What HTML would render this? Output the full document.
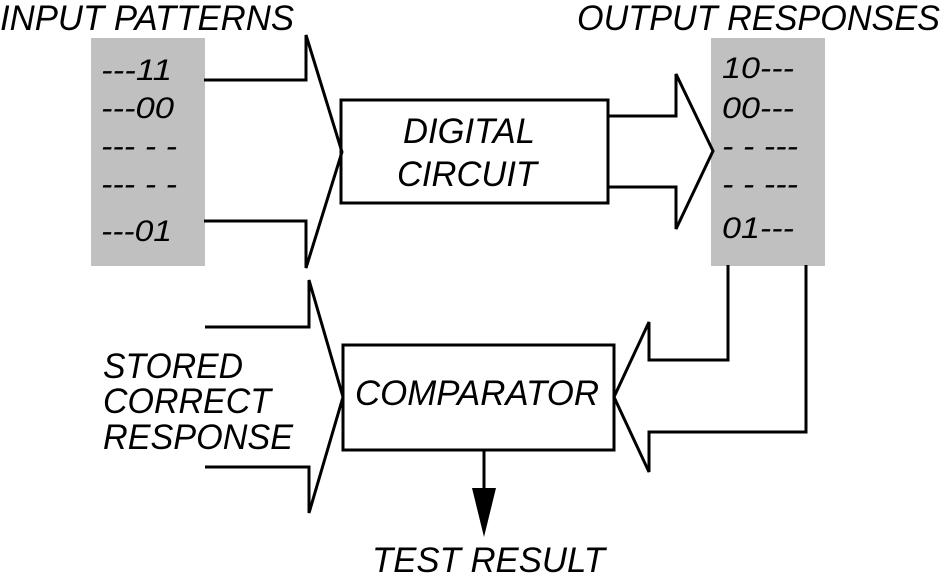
<!DOCTYPE html>
<html><head><meta charset="utf-8"><style>html,body{margin:0;padding:0;background:#fff}svg{display:block}</style></head>
<body>
<svg width="945" height="588" viewBox="0 0 945 588" xmlns="http://www.w3.org/2000/svg" font-family="Liberation Sans, sans-serif" font-style="italic">
<rect x="91" y="38" width="114" height="228" fill="#c0c0c0"/>
<rect x="711" y="38" width="114" height="228" fill="#c0c0c0"/>
<g fill="none" stroke="#000" stroke-width="3" stroke-linejoin="miter">
<polyline points="204,80 306,80 306,35 342,152 306,268 306,221 204,221"/>
<rect x="341" y="100" width="267" height="103"/>
<polyline points="608,116 676,116 676,74 713,151 676,229 676,187 608,187"/>
<rect x="343" y="345" width="271" height="105"/>
<polyline points="205,327 309,327 309,280 343,397 309,513 309,467 205,467"/>
<polyline points="728,265 728,360 649,360 649,322 614,397 649,472 649,432 806,432 806,265"/>
<line x1="484" y1="450" x2="484" y2="490"/>
</g>
<polygon points="472,488 496,488 484,537" fill="#000"/>
<g font-size="35">
<text x="0" y="30" textLength="294" lengthAdjust="spacingAndGlyphs">INPUT PATTERNS</text>
<text x="577" y="30" textLength="363" lengthAdjust="spacingAndGlyphs">OUTPUT RESPONSES</text>
<text x="403" y="143" textLength="132" lengthAdjust="spacingAndGlyphs">DIGITAL</text>
<text x="397" y="186" textLength="140" lengthAdjust="spacingAndGlyphs">CIRCUIT</text>
<text x="355" y="405" textLength="244" lengthAdjust="spacingAndGlyphs">COMPARATOR</text>
<text x="103" y="378" textLength="140" lengthAdjust="spacingAndGlyphs">STORED</text>
<text x="103" y="413" textLength="168" lengthAdjust="spacingAndGlyphs">CORRECT</text>
<text x="103" y="449" textLength="190" lengthAdjust="spacingAndGlyphs">RESPONSE</text>
<text x="372" y="572" textLength="233" lengthAdjust="spacingAndGlyphs">TEST RESULT</text>
</g>
<g font-size="30">
<text x="101" y="80" textLength="71" lengthAdjust="spacingAndGlyphs">---11</text>
<text x="101" y="118" textLength="73" lengthAdjust="spacingAndGlyphs">---00</text>
<text x="101" y="156" textLength="76" lengthAdjust="spacingAndGlyphs">--- - -</text>
<text x="101" y="194" textLength="76" lengthAdjust="spacingAndGlyphs">--- - -</text>
<text x="101" y="241" textLength="71" lengthAdjust="spacingAndGlyphs">---01</text>
<text x="722" y="78" textLength="72" lengthAdjust="spacingAndGlyphs">10---</text>
<text x="722" y="118" textLength="72" lengthAdjust="spacingAndGlyphs">00---</text>
<text x="722" y="156" textLength="76" lengthAdjust="spacingAndGlyphs">- - ---</text>
<text x="722" y="194" textLength="76" lengthAdjust="spacingAndGlyphs">- - ---</text>
<text x="722" y="238" textLength="72" lengthAdjust="spacingAndGlyphs">01---</text>
</g>
</svg>
</body></html>
